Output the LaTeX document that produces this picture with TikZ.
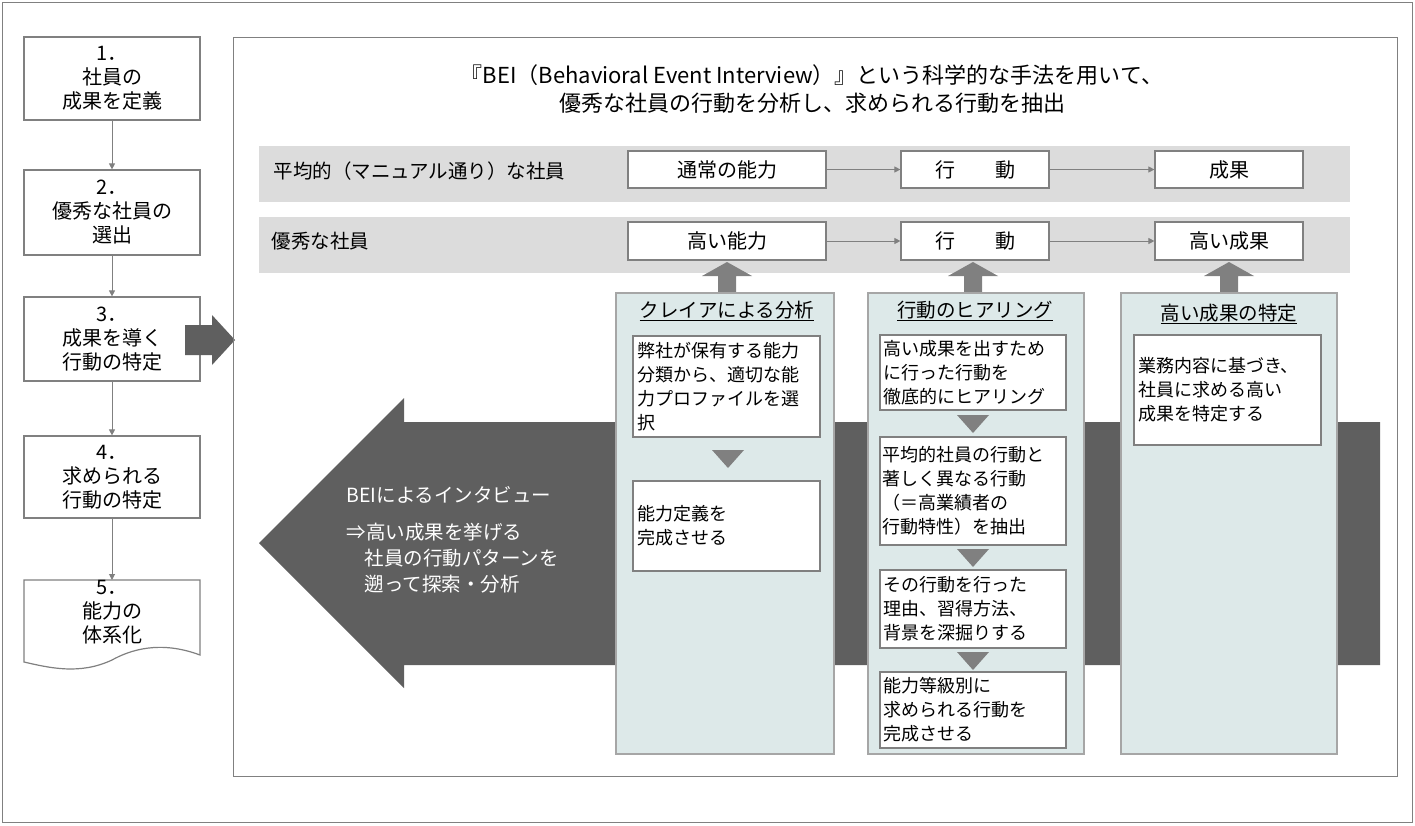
\documentclass[tikz,border=0pt]{standalone}
\usepackage{fontspec}
\setmainfont{Noto Sans CJK JP}
\usetikzlibrary{arrows.meta}
\definecolor{dk}{HTML}{5F5F5F}
\definecolor{bandc}{HTML}{DCDCDC}
\definecolor{colc}{HTML}{DDE9E9}
\definecolor{ln}{HTML}{808080}
\tikzset{
 lbox/.style={draw=ln,line width=1.2pt,fill=white,align=center,font=\fontsize{20}{24}\selectfont,inner sep=0pt},
 rbox/.style={draw=ln,line width=1.2pt,fill=white,align=center,font=\fontsize{20}{22}\selectfont,inner sep=0pt},
 ibox/.style={draw=ln,line width=1.5pt,fill=white,align=left,font=\fontsize{18}{24}\selectfont,inner sep=0pt},
 col/.style={draw=gray!70,line width=2pt,fill=colc},
 sarr/.style={draw=ln,line width=1pt,-{Triangle[length=6pt,width=6pt]}},
 ctitle/.style={font=\fontsize{19.5}{22}\selectfont,anchor=center},
 lab/.style={font=\fontsize{19.5}{22}\selectfont,anchor=west},
}
\begin{document}
\begin{tikzpicture}[x=1pt,y=-1pt]
\useasboundingbox (0,0) rectangle (1415,825);
\draw[draw=ln,line width=1pt] (2,2) rectangle (1412,822);
% left boxes
\node[lbox,minimum width=176pt,minimum height=83pt] (s1) at (112,78.5) {1．\\社員の\\成果を定義};
\node[lbox,minimum width=176pt,minimum height=85pt] (s2) at (112,212.5) {2．\\優秀な社員の\\選出};
\node[lbox,minimum width=176pt,minimum height=84pt] (s3) at (112,339) {3．\\成果を導く\\行動の特定};
\node[lbox,minimum width=176pt,minimum height=82pt] (s4) at (112,477) {4．\\求められる\\行動の特定};
\draw[draw=ln,line width=1.2pt,fill=white] (24,580) -- (200,580) -- (200,655) .. controls (160,640) and (130,650) .. (112,660) .. controls (80,675) and (50,668) .. (24,662) -- cycle;
\node[font=\fontsize{20}{24}\selectfont,align=center] (s5) at (112,612) {5．\\能力の\\体系化};
\foreach \a/\b in {s1/s2,s2/s3,s3/s4} \draw[sarr] (\a) -- (\b);
\draw[sarr] (s4.south) -- (112,580);
% big right arrow
\fill[dk] (185,325) -- (212,325) -- (212,315) -- (235,340) -- (212,365) -- (212,355) -- (185,355) -- cycle;
% main frame
\draw[draw=ln,line width=1pt] (233,37) rectangle (1397,776);
\node[font=\fontsize{22}{28}\selectfont,align=center] (title) at (812,89) {『BEI（Behavioral Event Interview）』という科学的な手法を用いて、\\優秀な社員の行動を分析し、求められる行動を抽出};
% bands
\fill[bandc] (259,146) rectangle (1350,202);
\fill[bandc] (259,217) rectangle (1350,273);
\node[lab] (l1) at (270,171) {平均的（マニュアル通り）な社員};
\node[lab] (l2) at (268,241) {優秀な社員};
\node[rbox,minimum width=198pt,minimum height=37pt] (a1) at (727,169.5) {通常の能力};
\node[rbox,minimum width=148pt,minimum height=37pt] (b1) at (975,169.5) {行　　動};
\node[rbox,minimum width=148pt,minimum height=37pt] (c1) at (1229,169.5) {成果};
\node[rbox,minimum width=198pt,minimum height=38pt] (a2) at (727,241) {高い能力};
\node[rbox,minimum width=148pt,minimum height=38pt] (b2) at (975,241) {行　　動};
\node[rbox,minimum width=148pt,minimum height=38pt] (c2) at (1229,241) {高い成果};
\draw[sarr] (a1) -- (b1); \draw[sarr] (b1) -- (c1);
\draw[sarr] (a2) -- (b2); \draw[sarr] (b2) -- (c2);
% up arrows
\foreach \x in {727,973,1229} \fill[ln] (\x-9,292) -- (\x-9,276) -- (\x-25,276) -- (\x,262) -- (\x+25,276) -- (\x+9,276) -- (\x+9,292) -- cycle;
% big left arrow
\fill[dk] (259,543) -- (404,398) -- (404,422) -- (1380,422) -- (1380,665) -- (404,665) -- (404,688) -- cycle;
\node[text=white,lab] (t1) at (343,495) {BEIによるインタビュー};
\node[text=white,font=\fontsize{19.5}{26}\selectfont,anchor=north west,align=left] (t2) at (343,520) {⇒高い成果を挙げる\\\hspace*{18pt}社員の行動パターンを\\\hspace*{18pt}遡って探索・分析};
% columns
\draw[col] (616,293) rectangle (834,754);
\draw[col] (868,293) rectangle (1084,754);
\draw[col] (1121,293) rectangle (1337,754);
\node[ctitle] (h1) at (727,311) {\underline{クレイアによる分析}};
\node[ctitle] (h2) at (975,311) {\underline{行動のヒアリング}};
\node[ctitle] (h3) at (1229,314) {\underline{高い成果の特定}};
% inner boxes
\node[ibox,minimum width=187pt,minimum height=101pt,text width=179pt] (p1) at (726.5,386.5) {弊社が保有する能力\\分類から、適切な能\\力プロファイルを選\\択};
\node[ibox,minimum width=187pt,minimum height=90pt,text width=179pt] (p2) at (726.5,526) {能力定義を\\完成させる};
\node[ibox,minimum width=186pt,minimum height=75pt,text width=180pt] (q1) at (973,372.5) {高い成果を出すため\\に行った行動を\\徹底的にヒアリング};
\node[ibox,minimum width=186pt,minimum height=108pt,text width=182pt] (q2) at (973,491) {平均的社員の行動と\\著しく異なる行動\\（＝高業績者の\\行動特性）を抽出};
\node[ibox,minimum width=186pt,minimum height=78pt,text width=180pt] (q3) at (973,609) {その行動を行った\\理由、習得方法、\\背景を深掘りする};
\node[ibox,minimum width=186pt,minimum height=76pt,text width=180pt] (q4) at (973,710) {能力等級別に\\求められる行動を\\完成させる};
\node[ibox,minimum width=187pt,minimum height=110pt,text width=179pt] (r1) at (1227.5,390) {業務内容に基づき、\\社員に求める高い\\成果を特定する\\[18pt]};
% triangles
\fill[ln] (712,450) -- (744,450) -- (728,468) -- cycle;
\foreach \y in {415,549,652} \fill[ln] (957,\y) -- (989,\y) -- (973,\y+18) -- cycle;
\end{tikzpicture}
\end{document}
